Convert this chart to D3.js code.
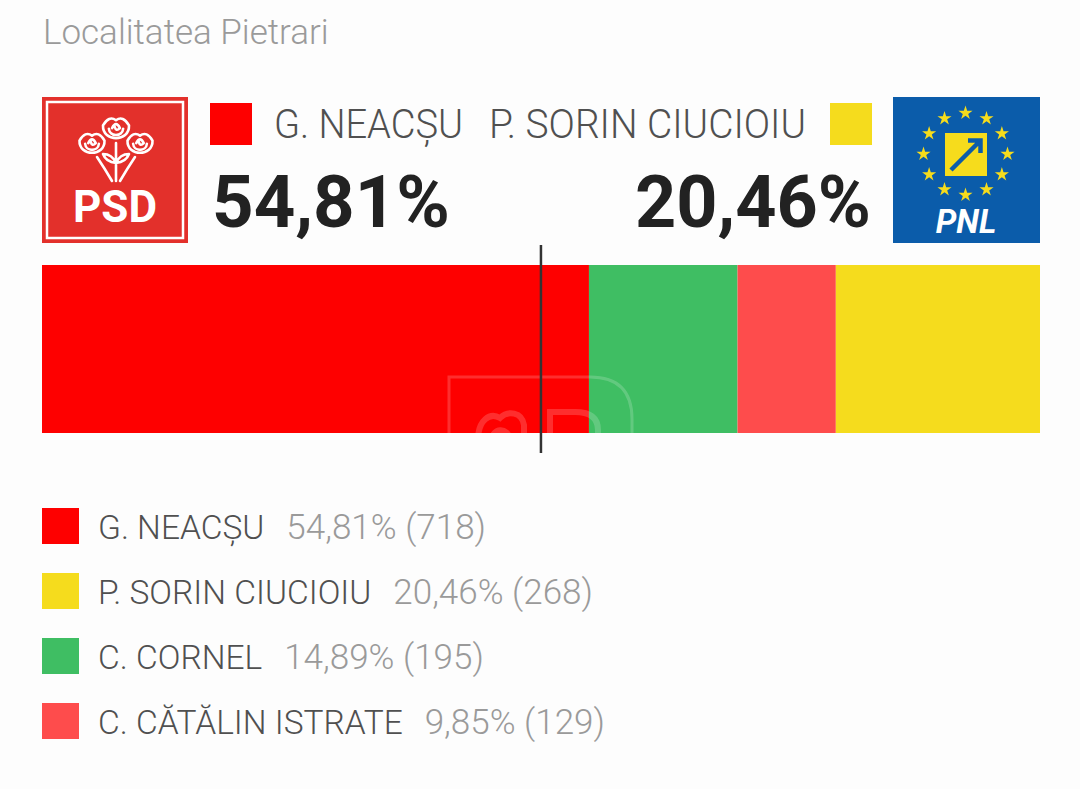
<!DOCTYPE html>
<html>
<head>
<meta charset="utf-8">
<script src="https://cdn.jsdelivr.net/npm/d3@7"></script>
<style>
  html, body { margin: 0; padding: 0; background: #fdfdfd; }
  svg { display: block; }
  text { font-family: Roboto, "Open Sans", sans-serif; }
</style>
</head>
<body>
<div id="chart"></div>
<script>
// Election result for one locality
const title = "Localitatea Pietrari";
const candidates = ["G. NEACȘU", "P. SORIN CIUCIOIU", "C. CORNEL", "C. CĂTĂLIN ISTRATE"];
const percents   = [54.81, 20.46, 14.89, 9.85];
const votes      = [718, 268, 195, 129];
const colors     = ["#fe0000", "#f5dc1d", "#3fbe63", "#fe4c4c"];
// order of segments along the bar (leader on the left, runner-up on the right)
const barOrder   = [0, 2, 3, 1];

const W = 1080, H = 789;
const svg = d3.select("#chart").append("svg").attr("width", W).attr("height", H);
svg.append("rect").attr("width", W).attr("height", H).attr("fill", "#fdfdfd");

const fmt = v => d3.format(".2f")(v).replace(".", ",");

// title
svg.append("text").attr("x", 43).attr("y", 44)
  .attr("font-size", 35).attr("font-weight", 300).attr("fill", "#9a9a9a")
  .text(title);

// ---------- PSD logo ----------
function drawRoses(g, sw) {
  const roses = g.append("g").attr("fill", "none").attr("stroke", "#fff").attr("stroke-width", sw)
    .attr("stroke-linecap", "round").attr("stroke-linejoin", "round");
  function rose(cx, cy, s) {
    // cup of the flower
    roses.append("path").attr("d",
      `M${cx - s},${cy - s * 0.35} C${cx - s * 1.05},${cy + s * 0.95} ${cx + s * 1.05},${cy + s * 0.95} ${cx + s},${cy - s * 0.35}
       Q${cx + s * 0.55},${cy - s * 1.15} ${cx},${cy - s * 0.75}
       Q${cx - s * 0.55},${cy - s * 1.15} ${cx - s},${cy - s * 0.35}Z`);
    // inner petals
    roses.append("path").attr("d",
      `M${cx - s * 0.55},${cy - s * 0.1} C${cx - s * 0.5},${cy + s * 0.55} ${cx + s * 0.5},${cy + s * 0.55} ${cx + s * 0.55},${cy - s * 0.1}
       M${cx - s * 0.3},${cy - s * 0.15} Q${cx},${cy - s * 0.75} ${cx + s * 0.3},${cy - s * 0.15}
       Q${cx},${cy + s * 0.15} ${cx - s * 0.1},${cy - s * 0.25}`);
  }
  rose(50, 48, 12.5);
  rose(74, 33, 13);
  rose(98, 48, 12.5);
  // stems and leaves
  roses.append("path").attr("d",
    "M74,46 L74,84 M55,60 Q63,72 70,84 M93,60 Q85,72 78,84" +
    " M74,66 q-10,-1 -13,-9 q9,0 13,9 M74,66 q10,-1 13,-9 q-9,0 -13,9");
}
const psd = svg.append("g").attr("transform", "translate(42,97)");
psd.append("rect").attr("width", 146).attr("height", 146).attr("fill", "#e3302b");
psd.append("rect").attr("x", 5).attr("y", 5).attr("width", 136).attr("height", 136)
  .attr("fill", "none").attr("stroke", "#fff").attr("stroke-width", 2.5);
drawRoses(psd, 2.6);
psd.append("text").attr("x", 73).attr("y", 125).attr("text-anchor", "middle")
  .attr("font-family", "'Liberation Sans Narrow', 'DejaVu Sans Condensed', Roboto, sans-serif")
  .attr("font-size", 44).attr("font-weight", 700).attr("fill", "#fff").text("PSD");

// ---------- PNL logo ----------
const pnl = svg.append("g").attr("transform", "translate(893,97)");
pnl.append("rect").attr("width", 147).attr("height", 146).attr("fill", "#0b5caa");
const starPath = d3.symbol().type(d3.symbolStar).size(62);
d3.range(12).forEach(i => {
  const a = i / 12 * 2 * Math.PI;
  pnl.append("path").attr("d", starPath())
    .attr("transform", `translate(${72.5 + 42 * Math.sin(a)},${57 - 41 * Math.cos(a)})`)
    .attr("fill", "#f6dc1c");
});
pnl.append("rect").attr("x", 52).attr("y", 36).attr("width", 42).attr("height", 43).attr("fill", "#f6dc1c");
pnl.append("path").attr("d", "M58,73 L86,45 M75,43.5 L87.5,43.5 L87.5,56")
  .attr("fill", "none").attr("stroke", "#0b5caa").attr("stroke-width", 4.5)
  .attr("stroke-linecap", "butt");
pnl.append("text").attr("x", 73).attr("y", 136).attr("text-anchor", "middle")
  .attr("font-family", "'Liberation Sans', Arial, sans-serif")
  .attr("font-size", 33).attr("font-weight", 700).attr("font-style", "italic")
  .attr("fill", "#fff").text("PNL");

// ---------- headline: leader and runner-up ----------
const lead = 0, second = 1;
svg.append("rect").attr("x", 210).attr("y", 103).attr("width", 42).attr("height", 42).attr("fill", colors[lead]);
svg.append("rect").attr("x", 830).attr("y", 103).attr("width", 42).attr("height", 42).attr("fill", colors[second]);
svg.append("text").attr("x", 274).attr("y", 138)
  .attr("font-size", 41).attr("font-weight", 300).attr("fill", "#505050")
  .attr("textLength", 189).attr("lengthAdjust", "spacingAndGlyphs")
  .text(candidates[lead]);
svg.append("text").attr("x", 806).attr("y", 138).attr("text-anchor", "end")
  .attr("font-size", 41).attr("font-weight", 300).attr("fill", "#505050")
  .attr("textLength", 317).attr("lengthAdjust", "spacingAndGlyphs")
  .text(candidates[second]);
svg.append("text").attr("x", 212).attr("y", 227)
  .attr("font-size", 72).attr("font-weight", 700).attr("fill", "#222")
  .attr("textLength", 238).attr("lengthAdjust", "spacingAndGlyphs")
  .text(fmt(percents[lead]) + "%");
svg.append("text").attr("x", 871).attr("y", 227).attr("text-anchor", "end")
  .attr("font-size", 72).attr("font-weight", 700).attr("fill", "#222")
  .attr("textLength", 236).attr("lengthAdjust", "spacingAndGlyphs")
  .text(fmt(percents[second]) + "%");

// ---------- stacked bar ----------
const x = d3.scaleLinear().domain([0, d3.sum(percents)]).range([42, 1040]);
const segs = [];
let acc = 0;
barOrder.forEach(i => { segs.push({ i, x0: acc, x1: acc + percents[i] }); acc += percents[i]; });
svg.append("g").selectAll("rect").data(segs).join("rect")
  .attr("x", d => x(d.x0)).attr("y", 265)
  .attr("width", d => x(d.x1) - x(d.x0)).attr("height", 168)
  .attr("fill", d => colors[d.i]);

// faint watermark over the bar, clipped to the bar
svg.append("clipPath").attr("id", "barClip").append("rect")
  .attr("x", 42).attr("y", 265).attr("width", 998).attr("height", 168);
const wm = svg.append("g").attr("clip-path", "url(#barClip)").attr("opacity", 0.18)
  .attr("fill", "none").attr("stroke", "#fff").attr("stroke-width", 3);
wm.append("path").attr("d", "M449,440 L449,377 L590,377 Q632,377 632,419 L632,440");
wm.append("path").attr("d", "M478,440 C478,420 490,412 500,418 C508,410 522,412 524,425 L524,440 M492,440 C492,428 508,426 510,440")
  .attr("stroke-width", 6);
wm.append("path").attr("d", "M550,440 L550,412 L575,412 Q598,412 598,430 L598,440").attr("stroke-width", 6);

// 50% marker
svg.append("line").attr("x1", x(50)).attr("x2", x(50)).attr("y1", 245).attr("y2", 453)
  .attr("stroke", "#333").attr("stroke-width", 2.5);

// ---------- legend ----------
const leg = svg.append("g");
const rows = leg.selectAll("g").data(candidates.map((c, i) => i)).join("g")
  .attr("transform", i => `translate(42,${508 + i * 65})`);
rows.append("rect").attr("width", 37).attr("height", 36).attr("fill", i => colors[i]);
const legText = rows.append("text").attr("x", 56).attr("y", 31).attr("font-weight", 300);
legText.append("tspan").attr("fill", "#505050").attr("font-size", 33.5).text(i => candidates[i]);
legText.append("tspan").attr("fill", "#9a9a9a").attr("font-size", 35).attr("dx", 22)
  .text(i => `${fmt(percents[i])}% (${votes[i]})`);
</script>
</body>
</html>
